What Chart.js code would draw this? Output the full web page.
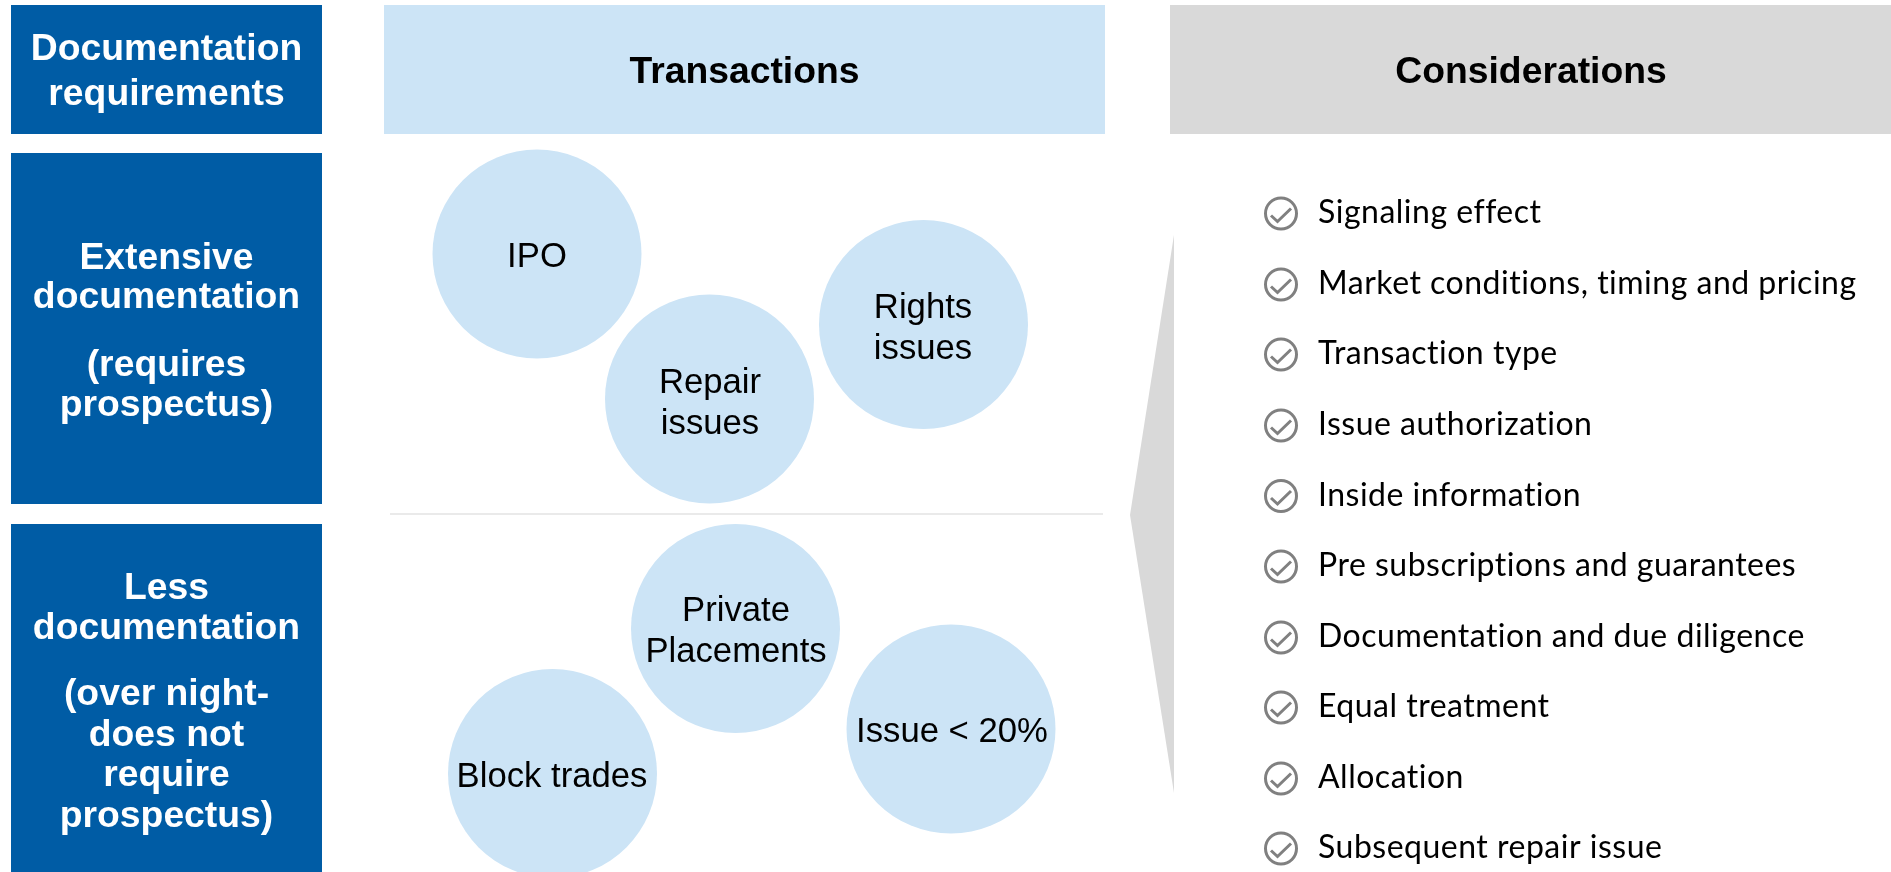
<!DOCTYPE html>
<html lang="en">
    <head>
        <meta charset="UTF-8" />
        <title>Documentation requirements</title>
        <script src="https://cdn.jsdelivr.net/npm/chart.js@4"></script>
        <style>
            html, body {
                margin: 0;
                padding: 0;
                background: #ffffff;
                overflow: hidden;
            }
            #wrap {
                width: 1891px;
                height: 872px;
            }
        </style>
    </head>
    <body>
        <div id="wrap"><canvas id="diagram"></canvas></div>
        <script>
            const sideBoxLeft = [11, 11, 11];
            const sideBoxRight = [322, 322, 322];
            const sideBoxTop = [5, 153, 524];
            const sideBoxBottom = [134, 504, 872];

            const headerBoxLeft = [384, 1170];
            const headerBoxRight = [1105, 1891];
            const headerBoxTop = [5, 5];
            const headerBoxBottom = [134, 134];
            const headerLabels = ['Transactions', 'Considerations'];
            const headerLabelX = [744.5, 1531];
            const headerLabelY = [83, 83];

            const sideLabels = [
                'Documentation', 'requirements',
                'Extensive', 'documentation', '(requires', 'prospectus)',
                'Less', 'documentation', '(over night-', 'does not', 'require', 'prospectus)'
            ];
            const sideLabelY = [60, 105, 269, 308, 376, 416, 599, 639, 705, 746, 786, 827];

            const circleX = [537, 709.5, 923.5, 735.5, 951, 552.5];
            const circleY = [254, 399, 324.5, 628.5, 729, 773.5];
            const circleR = [104.5, 104.5, 104.5, 104.5, 104.5, 104.5];

            const circleLabels = ['IPO', 'Repair', 'issues', 'Rights', 'issues', 'Private', 'Placements', 'Issue < 20%', 'Block trades'];
            const circleLabelX = [537, 710, 710, 923, 923, 736, 736, 952, 552];
            const circleLabelY = [267, 393, 433.5, 318, 359, 621, 662, 742, 787];

            const dividerX = [390, 1103];
            const dividerY = [514, 514];

            const chevronX = [1174, 1130, 1174];
            const chevronY = [235, 515, 793];

            const considerations = [
                'Signaling effect',
                'Market conditions, timing and pricing',
                'Transaction type',
                'Issue authorization',
                'Inside information',
                'Pre subscriptions and guarantees',
                'Documentation and due diligence',
                'Equal treatment',
                'Allocation',
                'Subsequent repair issue'
            ];
            const considerationY = [213.5, 284.5, 354.5, 425.5, 496, 566.5, 637.5, 707.5, 778.5, 848.5];
            const checkCircleX = 1281;
            const considerationTextX = 1318;

            const checkOffsetX = [-10, -3.5, 10];
            const checkOffsetY = [2, 8, -5];

            const DARK_BLUE = '#005ca5';
            const LIGHT_BLUE = '#cce4f6';
            const GREY = '#d9d9d9';
            const CHECK_GREY = '#808080';

            function rectangle(left, right, top, bottom) {
                return [
                    { x: left, y: top },
                    { x: right, y: top },
                    { x: right, y: bottom },
                    { x: left, y: bottom },
                    { x: left, y: top }
                ];
            }

            function shapeDataset(data, color) {
                return {
                    type: 'scatter',
                    data,
                    showLine: true,
                    fill: 'shape',
                    backgroundColor: color,
                    borderColor: color,
                    borderWidth: 0,
                    pointRadius: 0,
                    tension: 0
                };
            }

            const datasets = [];

            sideBoxLeft.forEach((_, i) => {
                datasets.push(shapeDataset(rectangle(sideBoxLeft[i], sideBoxRight[i], sideBoxTop[i], sideBoxBottom[i]), DARK_BLUE));
            });
            headerBoxLeft.forEach((_, i) => {
                datasets.push(shapeDataset(rectangle(headerBoxLeft[i], headerBoxRight[i], headerBoxTop[i], headerBoxBottom[i]), i === 0 ? LIGHT_BLUE : GREY));
            });
            datasets.push(shapeDataset(chevronX.map((x, i) => ({ x, y: chevronY[i] })), GREY));

            datasets.push({
                type: 'scatter',
                data: dividerX.map((x, i) => ({ x, y: dividerY[i] })),
                showLine: true,
                borderColor: '#e3e3e3',
                borderWidth: 1.5,
                pointRadius: 0
            });

            datasets.push({
                type: 'bubble',
                data: circleX.map((x, i) => ({ x, y: circleY[i], r: circleR[i] })),
                backgroundColor: LIGHT_BLUE,
                borderWidth: 0,
                hoverBorderWidth: 0
            });

            datasets.push({
                type: 'scatter',
                data: considerationY.map(y => ({ x: checkCircleX, y })),
                pointStyle: 'circle',
                pointRadius: 15.5,
                pointBorderWidth: 3,
                pointBorderColor: CHECK_GREY,
                pointBackgroundColor: 'transparent'
            });

            considerationY.forEach(y => {
                datasets.push({
                    type: 'scatter',
                    data: checkOffsetX.map((dx, i) => ({ x: checkCircleX + dx, y: y + checkOffsetY[i] })),
                    showLine: true,
                    borderColor: CHECK_GREY,
                    borderWidth: 3,
                    pointRadius: 0
                });
            });

            const labelPlugin = {
                id: 'diagramLabels',
                afterDatasetsDraw(chart) {
                    const { ctx, scales } = chart;
                    const put = (text, x, y) => ctx.fillText(text, scales.x.getPixelForValue(x), scales.y.getPixelForValue(y));
                    ctx.save();
                    ctx.textBaseline = 'alphabetic';

                    ctx.textAlign = 'center';
                    ctx.font = 'bold 37.3px "Liberation Sans"';
                    ctx.fillStyle = '#ffffff';
                    sideLabels.forEach((text, i) => put(text, (sideBoxLeft[0] + sideBoxRight[0]) / 2, sideLabelY[i]));

                    ctx.fillStyle = '#000000';
                    headerLabels.forEach((text, i) => put(text, headerLabelX[i], headerLabelY[i]));

                    ctx.font = '34.7px "Liberation Sans"';
                    circleLabels.forEach((text, i) => put(text, circleLabelX[i], circleLabelY[i]));

                    // Lato stands in for the original Calibri, a little tracking brings the widths back
                    ctx.textAlign = 'left';
                    ctx.font = '32px Lato';
                    ctx.letterSpacing = '0.5px';
                    considerations.forEach((text, i) => put(text, considerationTextX, considerationY[i] + 9.5));
                    ctx.restore();
                }
            };

            new Chart(document.getElementById('diagram'), {
                data: { datasets },
                options: {
                    responsive: true,
                    maintainAspectRatio: false,
                    animation: false,
                    events: [],
                    layout: { autoPadding: false, padding: 0 },
                    plugins: {
                        legend: { display: false },
                        tooltip: { enabled: false }
                    },
                    scales: {
                        x: { type: 'linear', min: 0, max: 1891, display: false },
                        y: { type: 'linear', min: 0, max: 872, reverse: true, display: false }
                    }
                },
                plugins: [labelPlugin]
            });
        </script>
    </body>
</html>
